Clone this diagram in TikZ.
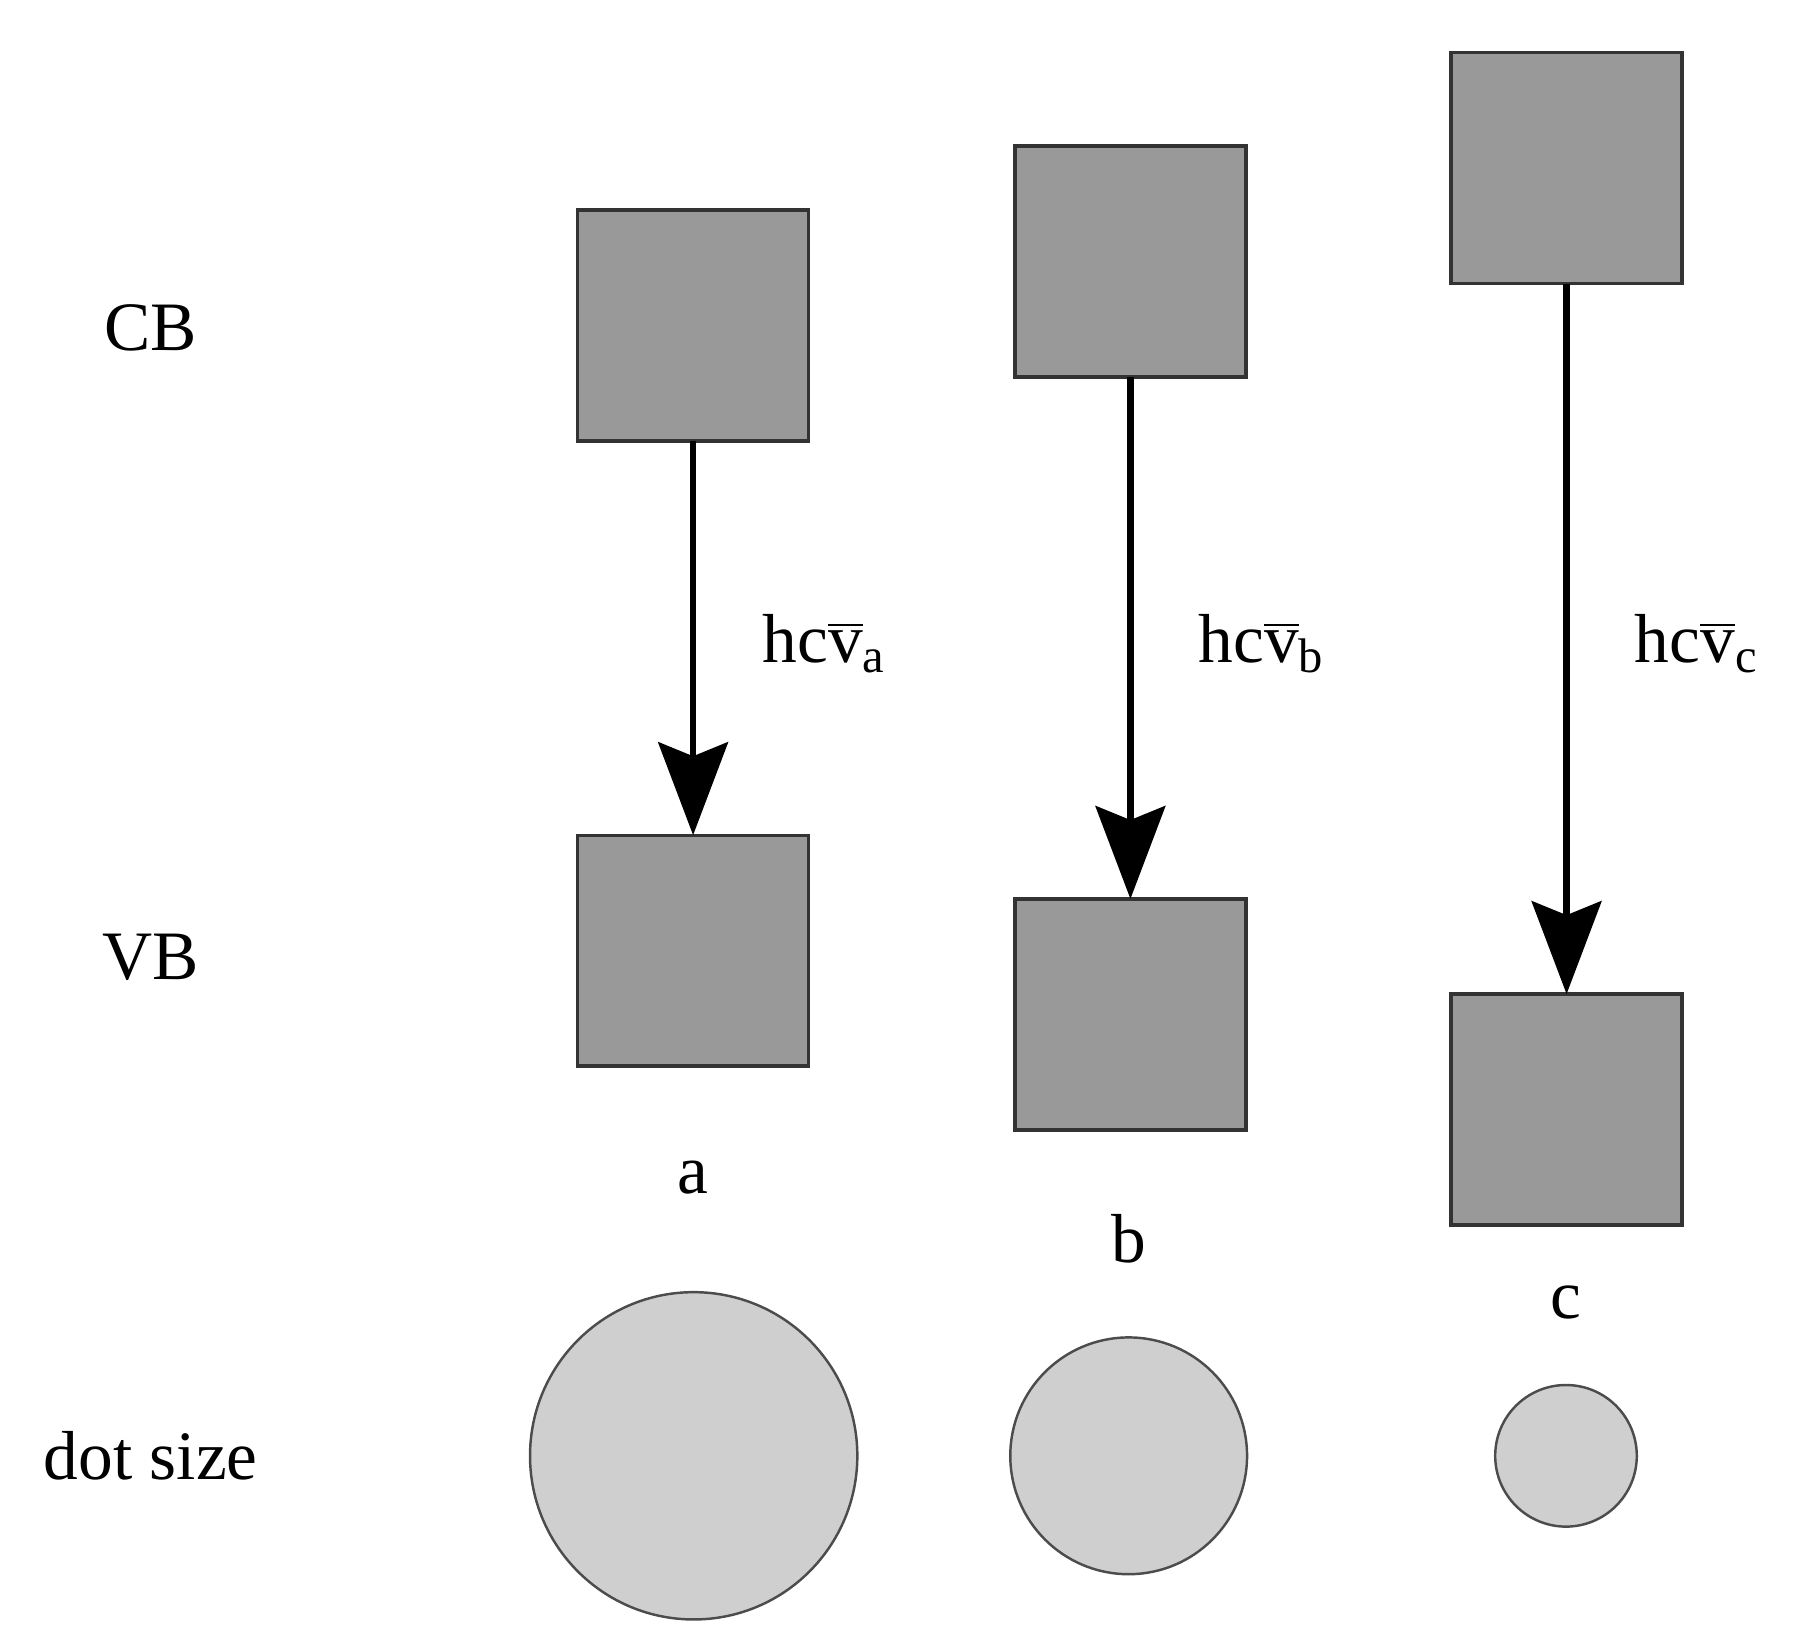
\documentclass[tikz,border=0pt]{standalone}
\usepackage{fontspec}
\setmainfont{Liberation Serif}
\usetikzlibrary{arrows.meta}
\begin{document}
\begin{tikzpicture}[x=0.01cm,y=-0.01cm,
  sq/.style={draw=black!80,line width=0.8pt,fill=black!40,minimum size=1.99cm,inner sep=0,outer sep=0},
  dot/.style={circle,draw=black!70,line width=0.6pt,fill=black!19,inner sep=0},
  lbl/.style={font=\fontsize{17}{20}\selectfont},
  arr/.style={line width=1.6pt,-{Stealth[length=0.8cm,width=0.6cm,inset=0.12cm]}}]
\useasboundingbox (0,0) rectangle (1550,1402);
\node[lbl] (cb) at (130,283) {CB};
\node[lbl] (vb) at (130,825) {VB};
\node[lbl] (ds) at (130,1255) {dot size};
\node[sq] (ca) at (597.5,280.5) {};
\node[sq] (va) at (597.5,819.5) {};
\node[sq] (cbb) at (974.5,225.5) {};
\node[sq] (vbb) at (974.5,874.5) {};
\node[sq] (cc) at (1350.5,145) {};
\node[sq] (vc) at (1350.5,956.5) {};
\draw[arr] (ca.south) -- (va.north);
\draw[arr] (cbb.south) -- (vbb.north);
\draw[arr] (cc.south) -- (vc.north);
\node[lbl,anchor=west] (ea) at (645,555) {hc$\overline{\hbox{v}}$\textsubscript{a}};
\node[lbl,anchor=west] (eb) at (1021,555) {hc$\overline{\hbox{v}}$\textsubscript{b}};
\node[lbl,anchor=west] (ec) at (1397,555) {hc$\overline{\hbox{v}}$\textsubscript{c}};
\node[lbl] (la) at (597,1015) {a};
\node[lbl] (lb) at (973,1068) {b};
\node[lbl] (lc) at (1350,1123) {c};
\node[dot,minimum size=2.82cm] (da) at (598,1255) {};
\node[dot,minimum size=2.04cm] (db) at (973,1255) {};
\node[dot,minimum size=1.22cm] (dc) at (1350,1255) {};
\end{tikzpicture}
\end{document}
